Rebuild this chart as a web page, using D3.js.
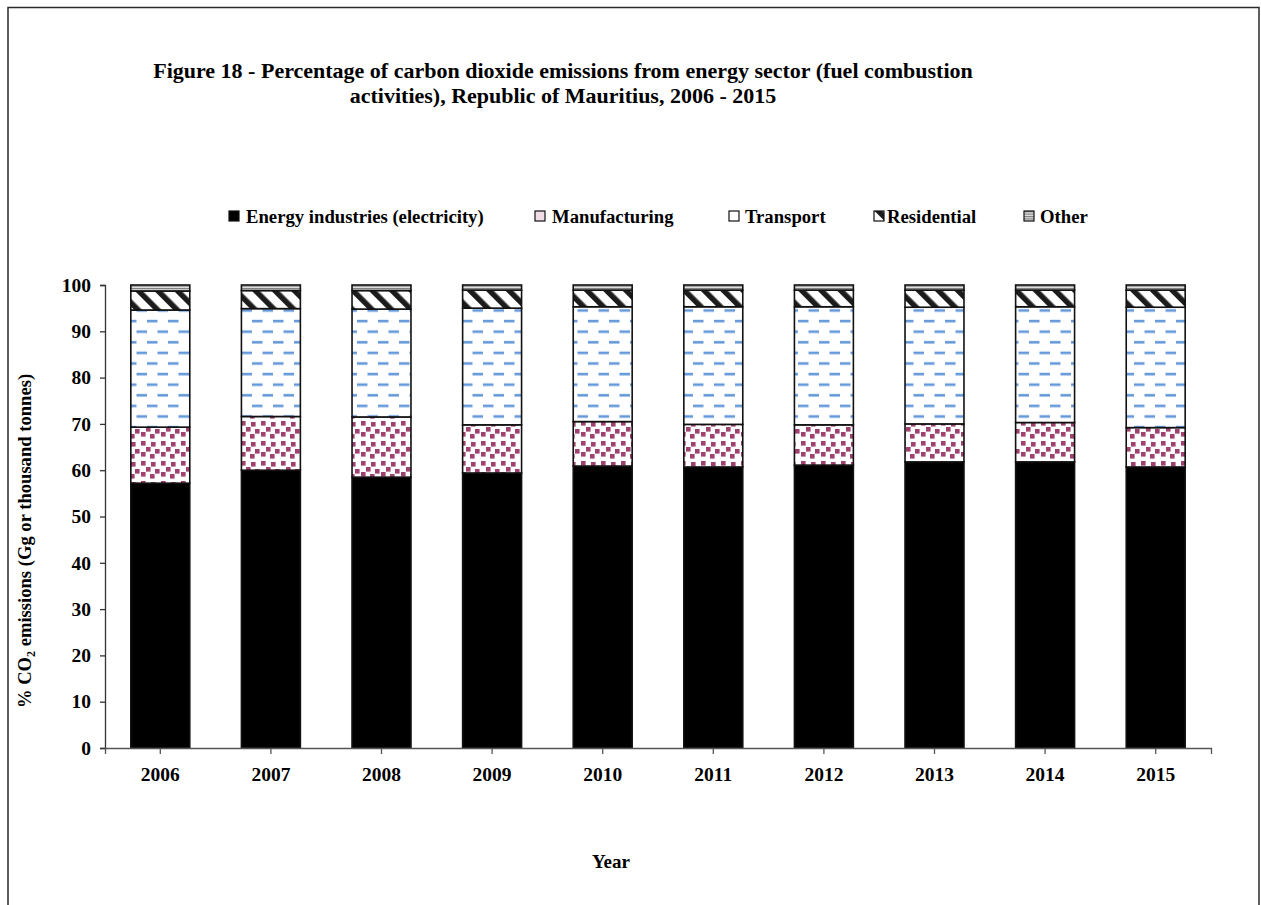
<!DOCTYPE html>
<html>
<head>
<meta charset="utf-8">
<script src="https://cdn.jsdelivr.net/npm/d3@7"></script>
<style>
  html, body { margin: 0; padding: 0; background: #fff; }
  svg { display: block; font-family: "Liberation Serif", "Times New Roman", serif; }
</style>
</head>
<body>
<svg id="chart" width="1261" height="905"></svg>
<script>
// Share of CO2 emissions from fuel combustion by source category (%)
const years = ["2006", "2007", "2008", "2009", "2010", "2011", "2012", "2013", "2014", "2015"];
const energy        = [57.2, 60.0, 58.5, 59.4, 60.9, 60.7, 61.1, 61.8, 61.8, 60.7];
const manufacturing = [12.1, 11.6, 13.0, 10.4, 9.6, 9.2, 8.7, 8.2, 8.5, 8.5];
const transport     = [25.3, 23.3, 23.3, 25.2, 24.8, 25.4, 25.5, 25.2, 25.0, 26.0];
const residential   = [4.1, 3.9, 4.0, 3.9, 3.6, 3.6, 3.6, 3.7, 3.6, 3.7];
const other         = [1.3, 1.2, 1.2, 1.1, 1.1, 1.1, 1.1, 1.1, 1.1, 1.1];
const seriesNames = ["Energy industries (electricity)", "Manufacturing", "Transport", "Residential", "Other"];
const yTicks = [0, 10, 20, 30, 40, 50, 60, 70, 80, 90, 100];

const seriesKeys = ["energy", "manufacturing", "transport", "residential", "other"];
const table = years.map((y, i) => ({
  year: y,
  energy: energy[i],
  manufacturing: manufacturing[i],
  transport: transport[i],
  residential: residential[i],
  other: other[i]
}));

const FONT = "Liberation Serif, Times New Roman, serif";
const svg = d3.select("#chart");
const defs = svg.append("defs");

// Fill patterns for each category
const pMan = defs.append("pattern").attr("id", "pat-man")
  .attr("patternUnits", "userSpaceOnUse").attr("width", 20).attr("height", 20);
pMan.append("rect").attr("width", 20).attr("height", 20).attr("fill", "#fff");
[[1,1],[11,2],[6,7],[15,9],[1,12],[10,14]].forEach(([x, y]) => {
  pMan.append("rect").attr("x", x).attr("y", y).attr("width", 4.6).attr("height", 4.6)
    .attr("fill", "#983263").attr("opacity", 0.92);
});

const pTr = defs.append("pattern").attr("id", "pat-tr")
  .attr("patternUnits", "userSpaceOnUse").attr("width", 21).attr("height", 21.2);
pTr.append("rect").attr("width", 21).attr("height", 21.2).attr("fill", "#fff");
pTr.append("rect").attr("x", 0).attr("y", 1.8).attr("width", 10.5).attr("height", 2.6).attr("fill", "#6599da");
pTr.append("rect").attr("x", 10.5).attr("y", 12.4).attr("width", 10.5).attr("height", 2.6).attr("fill", "#6599da");

const pRes = defs.append("pattern").attr("id", "pat-res")
  .attr("patternUnits", "userSpaceOnUse").attr("width", 13.8).attr("height", 13.8)
  .attr("patternTransform", "rotate(-45)");
pRes.append("rect").attr("width", 13.8).attr("height", 13.8).attr("fill", "#fff");
pRes.append("rect").attr("x", 0).attr("width", 5.5).attr("height", 13.8).attr("fill", "#1c1c1c");

const pOth = defs.append("pattern").attr("id", "pat-oth")
  .attr("patternUnits", "userSpaceOnUse").attr("width", 4).attr("height", 2.4);
pOth.append("rect").attr("width", 4).attr("height", 2.4).attr("fill", "#e2e2e2");
pOth.append("rect").attr("width", 4).attr("height", 1.1).attr("fill", "#7a7a7a");

const fills = {
  energy: "#000",
  manufacturing: "url(#pat-man)",
  transport: "url(#pat-tr)",
  residential: "url(#pat-res)",
  other: "url(#pat-oth)"
};

// Outer frame
svg.append("rect").attr("x", 8).attr("y", 7.5).attr("width", 1251).attr("height", 910)
  .attr("fill", "none").attr("stroke", "#2a2a2a").attr("stroke-width", 1.5);

// Title
const title = svg.append("text").attr("text-anchor", "middle")
  .attr("font-weight", "bold").attr("font-size", 22);
title.append("tspan").attr("x", 563).attr("y", 78)
  .text("Figure 18 - Percentage of carbon dioxide emissions from energy sector (fuel combustion");
title.append("tspan").attr("x", 563).attr("y", 103)
  .text("activities), Republic of Mauritius, 2006 - 2015");

// Scales
const x = d3.scaleBand().domain(years).range([105, 1211]).paddingInner(0.467).paddingOuter(0.2335);
const y = d3.scaleLinear().domain([0, 100]).range([748, 285]);

const stacked = d3.stack().keys(seriesKeys)(table);

// Bars
const layers = svg.append("g").selectAll("g").data(stacked).join("g")
  .attr("fill", d => fills[d.key]);
layers.selectAll("rect").data(d => d).join("rect")
  .attr("x", d => x(d.data.year))
  .attr("y", d => y(d[1]))
  .attr("width", x.bandwidth())
  .attr("height", d => y(d[0]) - y(d[1]))
  .attr("stroke", "#111").attr("stroke-width", 1.6);

// Y axis
const yAxis = svg.append("g").attr("transform", "translate(105,0)")
  .call(d3.axisLeft(y).tickValues(yTicks).tickSize(5).tickPadding(9).tickFormat(d3.format("d")));
yAxis.select(".domain").attr("stroke", "#333").attr("stroke-width", 1.3);
yAxis.selectAll(".tick line").attr("stroke", "#333").attr("stroke-width", 1.3);
yAxis.selectAll("text").attr("font-size", 19.5).attr("font-weight", "bold")
  .attr("font-family", FONT).attr("fill", "#000");

// X axis (ticks at category centres)
const xAxis = svg.append("g").attr("transform", "translate(0,748)")
  .call(d3.axisBottom(x).tickSize(6).tickPadding(13).tickSizeOuter(6));
xAxis.select(".domain").attr("stroke", "#555").attr("stroke-width", 1.3);
xAxis.selectAll(".tick line").attr("stroke", "#555").attr("stroke-width", 1.3);
xAxis.selectAll("text").attr("font-size", 19.5).attr("font-weight", "bold")
  .attr("font-family", FONT).attr("fill", "#000");

// Axis titles
svg.append("text").attr("x", 611).attr("y", 868).attr("text-anchor", "middle")
  .attr("font-size", 19).attr("font-weight", "bold").text("Year");

const yl = svg.append("text").attr("transform", "translate(31,541) rotate(-90)")
  .attr("text-anchor", "middle").attr("font-size", 18.6).attr("font-weight", "bold");
yl.append("tspan").text("% CO");
yl.append("tspan").attr("font-size", 12).attr("dy", 4).text("2");
yl.append("tspan").attr("dy", -4).text(" emissions (Gg or thousand tonnes)");

// Legend
const legendPos = [
  { mx: 229, tx: 246 },
  { mx: 535, tx: 552 },
  { mx: 729, tx: 745 },
  { mx: 874, tx: 887 },
  { mx: 1024, tx: 1040 }
];
const legendFills = ["#000", "#f0dde6", "#fff", "url(#pat-res)", "url(#pat-oth)"];
const legend = svg.append("g");
seriesNames.forEach((name, i) => {
  const p = legendPos[i];
  legend.append("rect").attr("x", p.mx).attr("y", 211).attr("width", 10).attr("height", 10)
    .attr("fill", legendFills[i]).attr("stroke", "#111").attr("stroke-width", 1.2);
  legend.append("text").attr("x", p.tx).attr("y", 223)
    .attr("font-size", 18.7).attr("font-weight", "bold").text(name);
});
</script>
</body>
</html>
